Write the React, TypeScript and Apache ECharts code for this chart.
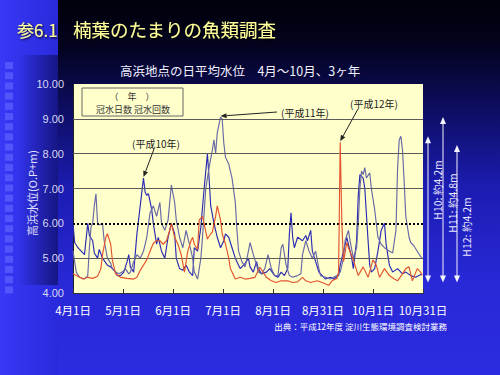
import React, { useEffect, useRef } from "react";
import * as echarts from "echarts";

// ---- data ----
const X_TICK_LABELS = ["4月1日", "5月1日", "6月1日", "7月1日", "8月1日", "8月31日", "10月1日", "10月31日"];
const DAYS_PER_TICK = 30.5;
const Y_MIN = 4;
const Y_MAX = 10;
const SOLID_GRID = [5, 7, 8, 9];
const DOTTED_GRID = [6];
const Y_AXIS_NAME = "高浜水位(O.P+m)";

// [days since Apr 1, water level O.P.+m]
const H10: [number, number][] = [
  [0, 6.0], [1, 5.45], [3, 5.3], [5, 5.2], [7, 5.1], [9, 6.0], [10, 5.65], [12, 5.5], [13, 5.15], [15, 5.0],
  [16, 5.25], [18, 5.0], [21, 4.8], [23, 4.75], [26, 4.6], [27, 4.5], [29, 4.5], [31, 4.6], [33, 4.9], [34, 5.1],
  [35, 4.75], [37, 4.6], [39, 5.7], [41, 6.5], [43, 7.3], [44, 6.9], [45, 6.8], [46, 6.85], [48, 6.4], [49, 6.0],
  [51, 5.4], [52, 5.6], [54, 5.2], [56, 5.0], [58, 5.6], [60, 6.0], [62, 5.7], [63, 5.0], [65, 4.7], [67, 4.65],
  [69, 4.8], [71, 4.6], [73, 4.5], [74, 5.3], [76, 5.2], [78, 5.9], [80, 7.0], [82, 8.0], [83, 7.3], [84, 6.5],
  [86, 6.0], [88, 5.6], [90, 5.3], [92, 5.5], [93, 5.7], [95, 5.6], [97, 5.3], [99, 5.0], [101, 4.8], [102, 4.7],
  [105, 4.85], [107, 5.0], [108, 4.75], [110, 4.6], [112, 4.9], [113, 4.7], [115, 4.55], [118, 4.6], [120, 4.7], [123, 4.5],
  [125, 4.45], [127, 4.6], [129, 4.5], [131, 4.7], [132, 5.7], [133, 6.3], [134, 5.6], [135, 5.3], [137, 5.6], [140, 5.5],
  [142, 5.65], [143, 5.5], [145, 5.8], [146, 5.2], [148, 4.9], [150, 4.6], [152, 4.5], [154, 4.4], [157, 4.45], [159, 4.4],
  [162, 4.5], [163, 4.8], [165, 5.2], [167, 5.6], [168, 5.4], [170, 5.0], [171, 4.7], [173, 5.5], [174, 6.8], [175, 7.4],
  [177, 7.3], [178, 7.0], [180, 5.5], [181, 4.8], [182, 4.6], [184, 4.7], [186, 5.2], [188, 5.8], [190, 6.0], [191, 5.4],
  [193, 4.8], [195, 4.6], [198, 4.7], [201, 4.55], [203, 4.6], [206, 4.5], [209, 4.45], [211, 4.5], [213, 4.55],
];

const H11: [number, number][] = [
  [0, 5.2], [2, 4.6], [4, 4.45], [7, 4.4], [9, 4.5], [10, 5.3], [11, 5.9], [12, 6.0], [13, 6.5], [14, 6.85],
  [15, 6.0], [16, 5.95], [18, 6.0], [19, 5.5], [21, 5.0], [23, 4.85], [24, 4.7], [26, 4.6], [28, 4.55], [30, 4.6],
  [32, 4.7], [34, 4.55], [35, 4.6], [37, 4.9], [39, 5.1], [41, 5.0], [43, 5.2], [45, 5.6], [47, 6.3], [49, 6.5],
  [51, 6.2], [53, 6.6], [54, 6.0], [56, 5.8], [58, 6.1], [60, 7.1], [62, 6.6], [63, 6.1], [65, 5.6], [67, 5.3],
  [69, 5.8], [71, 5.4], [73, 5.0], [74, 4.6], [76, 4.4], [78, 5.0], [79, 5.6], [81, 7.0], [83, 7.6], [85, 8.1],
  [86, 8.4], [87, 8.0], [88, 8.6], [90, 9.05], [91, 9.0], [92, 8.3], [93, 7.9], [95, 7.7], [97, 7.3], [99, 6.6],
  [100, 5.8], [101, 5.2], [103, 4.9], [105, 4.75], [107, 5.2], [108, 5.45], [110, 5.1], [112, 4.8], [113, 4.6], [115, 4.55],
  [117, 4.7], [119, 5.1], [121, 4.7], [123, 4.5], [125, 4.5], [127, 5.3], [128, 5.4], [130, 4.8], [132, 4.5], [134, 4.45],
  [137, 4.5], [139, 4.55], [140, 5.1], [142, 5.5], [144, 5.2], [146, 5.0], [148, 5.2], [150, 4.7], [151, 4.5], [154, 4.45],
  [157, 4.4], [159, 4.45], [161, 4.5], [163, 4.6], [165, 5.0], [166, 5.5], [168, 5.8], [169, 5.5], [171, 5.0], [173, 5.3],
  [174, 6.0], [175, 7.0], [176, 7.5], [177, 7.4], [178, 7.6], [179, 7.3], [181, 7.45], [182, 7.0], [184, 6.4], [186, 5.6],
  [188, 5.4], [190, 5.3], [193, 5.2], [195, 5.15], [197, 5.8], [198, 7.6], [199, 8.4], [200, 8.5], [201, 8.1], [202, 7.2],
  [203, 6.2], [205, 5.6], [206, 5.45], [208, 5.35], [210, 5.2], [212, 5.05], [213, 5.0],
];

const H12: [number, number][] = [
  [0, 4.55], [2, 4.5], [6, 4.4], [9, 4.45], [12, 4.42], [15, 4.48], [17, 4.7], [18, 5.1], [20, 5.6], [21, 5.7],
  [23, 5.4], [24, 4.95], [26, 4.55], [29, 4.45], [33, 4.42], [37, 4.4], [39, 4.45], [41, 4.65], [43, 4.8], [45, 4.95],
  [47, 5.2], [49, 5.43], [51, 5.5], [53, 5.5], [55, 5.4], [57, 5.5], [59, 5.8], [60, 6.0], [62, 5.6], [64, 5.4],
  [66, 5.1], [68, 4.6], [70, 5.2], [72, 5.5], [73, 5.6], [74, 5.4], [76, 5.25], [77, 6.1], [79, 6.2], [82, 5.55],
  [84, 5.7], [85, 5.75], [87, 6.2], [88, 6.5], [90, 6.1], [91, 5.7], [93, 5.4], [95, 5.0], [96, 4.7], [99, 4.4],
  [102, 4.45], [105, 4.4], [108, 4.42], [111, 4.45], [114, 4.74], [116, 4.6], [118, 4.45], [121, 4.35], [124, 4.3], [127, 4.35],
  [131, 4.35], [134, 4.3], [137, 4.32], [140, 4.45], [142, 4.35], [145, 4.3], [149, 4.35], [152, 4.3], [156, 4.22], [158, 4.35],
  [161, 4.42], [162, 4.6], [163, 8.33], [164, 6.0], [165, 4.9], [167, 5.45], [168, 5.3], [171, 4.95], [174, 4.5], [177, 4.75],
  [180, 4.45], [183, 4.95], [185, 4.8], [187, 4.45], [190, 4.7], [193, 4.5], [196, 4.4], [198, 4.35], [201, 4.55], [203, 4.7],
  [205, 4.75], [207, 4.35], [210, 4.7], [212, 4.6], [213, 4.5],
];

const SERIES_NAMES = ["平成10年", "平成11年", "平成12年"];
const SERIES_COLORS = ["#2a2ab4", "#6868a6", "#e2542e"];

// annotation labels: text, label centre (layout px), line start (layout px), target peak (data)
const ANNOTATIONS = [
  { text: "(平成10年)", cx: 156, cy: 143, sx: 154, sy: 149, target: [43, 7.3] },
  { text: "(平成11年)", cx: 305, cy: 112, sx: 277, sy: 112, target: [90, 9.05] },
  { text: "(平成12年)", cx: 374, cy: 103, sx: 358, sy: 109, target: [163, 8.33] },
];

// flood range arrows at the right
const RANGE_LABELS = ["H10: 約4.2m", "H11: 約4.8m", "H12: 約4.2m"];
const RANGE_TOPS = [8.5, 9.05, 8.25];
const RANGE_BOTTOM = 4.3;

const CJK = "'Noto Sans CJK JP', 'Noto Sans', sans-serif";

function arrowHead(tx: number, ty: number, fx: number, fy: number, len: number, half: number) {
  const dx = tx - fx;
  const dy = ty - fy;
  const l = Math.sqrt(dx * dx + dy * dy) || 1;
  const ux = dx / l;
  const uy = dy / l;
  const bx = tx - ux * len;
  const by = ty - uy * len;
  return [
    [tx, ty],
    [bx - uy * half, by + ux * half],
    [bx + uy * half, by - ux * half],
  ];
}

export default function App() {
  const ref = useRef<HTMLDivElement>(null);

  useEffect(() => {
    if (!ref.current) return;
    const chart = echarts.init(ref.current, undefined, { renderer: "svg" });

    const gridLines = [
      ...SOLID_GRID.map((v) => ({ yAxis: v, lineStyle: { color: "#5a5a5a", width: 1, type: "solid" } })),
      ...DOTTED_GRID.map((v) => ({ yAxis: v, lineStyle: { color: "#000", width: 2, type: [2, 2] } })),
    ];

    const dataSeries = [H10, H11, H12].map((d, i) => ({
      name: SERIES_NAMES[i],
      type: "line",
      data: d,
      showSymbol: false,
      symbol: "none",
      z: 3 + i,
      lineStyle: { color: SERIES_COLORS[i], width: 1.15 },
      itemStyle: { color: SERIES_COLORS[i] },
    }));

    chart.setOption({
      animation: false,
      backgroundColor: new echarts.graphic.LinearGradient(0, 0, 0, 1, [
        { offset: 0, color: "#00000a" },
        { offset: 0.12, color: "#03031e" },
        { offset: 0.3, color: "#0e0e66" },
        { offset: 0.5, color: "#1c1cb2" },
        { offset: 0.75, color: "#2828d6" },
        { offset: 1, color: "#2c2ce2" },
      ]),
      grid: {
        left: 73,
        top: 84,
        width: 350,
        height: 209,
        show: true,
        backgroundColor: "#ffffcc",
        borderWidth: 0,
      },
      xAxis: {
        type: "value",
        min: 0,
        max: DAYS_PER_TICK * (X_TICK_LABELS.length - 1),
        interval: DAYS_PER_TICK,
        axisLine: { show: true, lineStyle: { color: "#333", width: 1 } },
        axisTick: { show: true, inside: true, length: 4, lineStyle: { color: "#333" } },
        axisLabel: {
          color: "#ffffff",
          fontSize: 11.5,
          fontFamily: CJK,
          margin: 11,
          formatter: (v: number) => X_TICK_LABELS[Math.round(v / DAYS_PER_TICK)] ?? "",
        },
        splitLine: { show: false },
      },
      yAxis: {
        type: "value",
        min: Y_MIN,
        max: Y_MAX,
        interval: 1,
        axisLine: { show: true, lineStyle: { color: "#222", width: 1 } },
        axisTick: { show: false },
        axisLabel: {
          color: "#d8d8f4",
          fontSize: 11,
          fontFamily: "'Liberation Sans', Arial, sans-serif",
          margin: 9,
          padding: [6, 0, 0, 0],
          formatter: (v: number) => v.toFixed(2),
        },
        splitLine: { show: false },
      },
      series: [
        {
          type: "line",
          data: [[0, Y_MIN]],
          showSymbol: false,
          symbol: "none",
          silent: true,
          z: 1,
          lineStyle: { opacity: 0 },
          markLine: {
            silent: true,
            symbol: ["none", "none"],
            label: { show: false },
            animation: false,
            data: gridLines,
          },
        },
        ...dataSeries,
      ],
    });

    const px = (d: number[]) => chart.convertToPixel({ gridIndex: 0 }, d) as number[];

    const graphics: any[] = [];
    // left strip
    graphics.push({
      type: "rect",
      z: -5,
      shape: { x: 0, y: 0, width: 58, height: 375 },
      style: {
        fill: new echarts.graphic.LinearGradient(0, 0, 1, 0, [
          { offset: 0, color: "#3838f6" },
          { offset: 1, color: "#2a2adc" },
        ]),
      },
    });
    graphics.push({
      type: "rect",
      z: -4,
      shape: { x: 18, y: 55, width: 40, height: 230 },
      style: {
        fill: new echarts.graphic.LinearGradient(0, 0, 1, 0, [
          { offset: 0, color: "rgba(6,6,60,0)" },
          { offset: 1, color: "rgba(6,6,60,0.55)" },
        ]),
      },
    });
    for (let i = 0; i < 23; i++) {
      graphics.push({
        type: "rect",
        z: -3,
        shape: { x: 5, y: 62 + i * 10.2, width: 8, height: 7 },
        style: { fill: "rgba(95,95,255,0.75)" },
      });
    }
    // y axis title
    graphics.push({
      type: "text",
      z: 10,
      x: 32,
      y: 193,
      rotation: Math.PI / 2,
      style: {
        text: Y_AXIS_NAME,
        fill: "#e0e0ff",
        fontSize: 11,
        fontFamily: CJK,
        textAlign: "center",
        textVerticalAlign: "middle",
      },
    });
    // titles
    const titleStyle = {
      fill: "#ffff99",
      fontFamily: CJK,
      textVerticalAlign: "middle",
      textShadowColor: "#000",
      textShadowBlur: 2,
      textShadowOffsetX: 1,
      textShadowOffsetY: 1,
    };
    graphics.push({ type: "text", z: 10, x: 17, y: 29, style: { ...titleStyle, text: "参6.1", fontSize: 17 } });
    graphics.push({ type: "text", z: 10, x: 73, y: 29, style: { ...titleStyle, text: "楠葉のたまりの魚類調査", fontSize: 18.5 } });
    graphics.push({
      type: "text",
      z: 10,
      x: 240,
      y: 70,
      style: {
        text: "高浜地点の日平均水位　4月～10月、3ヶ年",
        fill: "#f0f0ff",
        fontSize: 12.5,
        fontFamily: CJK,
        textAlign: "center",
        textVerticalAlign: "middle",
      },
    });
    // legend box
    graphics.push({
      type: "rect",
      z: 20,
      shape: { x: 82, y: 88, width: 101, height: 28 },
      style: { fill: "#ffffcc", stroke: "#666", lineWidth: 1 },
    });
    graphics.push({
      type: "text",
      z: 21,
      x: 132,
      y: 96,
      style: { text: "（　年　）", fill: "#333", fontSize: 9, fontFamily: CJK, textAlign: "center", textVerticalAlign: "middle" },
    });
    graphics.push({
      type: "text",
      z: 21,
      x: 133,
      y: 109,
      style: { text: "冠水日数 冠水回数", fill: "#333", fontSize: 9, fontFamily: CJK, textAlign: "center", textVerticalAlign: "middle" },
    });
    // annotations
    ANNOTATIONS.forEach((a) => {
      const p = px(a.target);
      const tx = p[0];
      const ty = p[1] - 1;
      graphics.push({
        type: "text",
        z: 21,
        x: a.cx,
        y: a.cy,
        style: { text: a.text, fill: "#222", fontSize: 10, fontFamily: CJK, textAlign: "center", textVerticalAlign: "middle" },
      });
      const head = arrowHead(tx, ty, a.sx, a.sy, 6, 2.5);
      const bx = (head[1][0] + head[2][0]) / 2;
      const by = (head[1][1] + head[2][1]) / 2;
      graphics.push({
        type: "line",
        z: 21,
        shape: { x1: a.sx, y1: a.sy, x2: bx, y2: by },
        style: { stroke: "#222", lineWidth: 1 },
      });
      graphics.push({ type: "polygon", z: 21, shape: { points: head }, style: { fill: "#222" } });
    });
    // range arrows
    const arrowXs = [428, 443, 457];
    const labelXs = [437, 452, 466];
    const labelYs = [190, 203, 227];
    RANGE_TOPS.forEach((top, i) => {
      const x = arrowXs[i];
      const yTop = px([0, top])[1];
      const yBot = px([0, RANGE_BOTTOM])[1];
      graphics.push({
        type: "line",
        z: 10,
        shape: { x1: x, y1: yTop + 5, x2: x, y2: yBot - 5 },
        style: { stroke: "#f4f4ff", lineWidth: 1 },
      });
      graphics.push({
        type: "polygon",
        z: 10,
        shape: { points: [[x, yTop], [x - 3, yTop + 7], [x + 3, yTop + 7]] },
        style: { fill: "#f4f4ff" },
      });
      graphics.push({
        type: "polygon",
        z: 10,
        shape: { points: [[x, yBot], [x - 3, yBot - 7], [x + 3, yBot - 7]] },
        style: { fill: "#f4f4ff" },
      });
      graphics.push({
        type: "text",
        z: 10,
        x: labelXs[i],
        y: labelYs[i],
        rotation: Math.PI / 2,
        style: {
          text: RANGE_LABELS[i],
          fill: "#e8e8ff",
          fontSize: 10.5,
          fontFamily: CJK,
          textAlign: "center",
          textVerticalAlign: "middle",
        },
      });
    });
    // source
    graphics.push({
      type: "text",
      z: 10,
      x: 447,
      y: 326,
      style: {
        text: "出典：平成12年度 淀川生態環境調査検討業務",
        fill: "#ffffff",
        fontSize: 8.5,
        fontFamily: CJK,
        textAlign: "right",
        textVerticalAlign: "middle",
      },
    });

    chart.setOption({ graphic: { elements: graphics } });

    return () => chart.dispose();
  }, []);

  return <div ref={ref} style={{ position: "absolute", left: 0, top: 0, width: 500, height: 375 }} />;
}
